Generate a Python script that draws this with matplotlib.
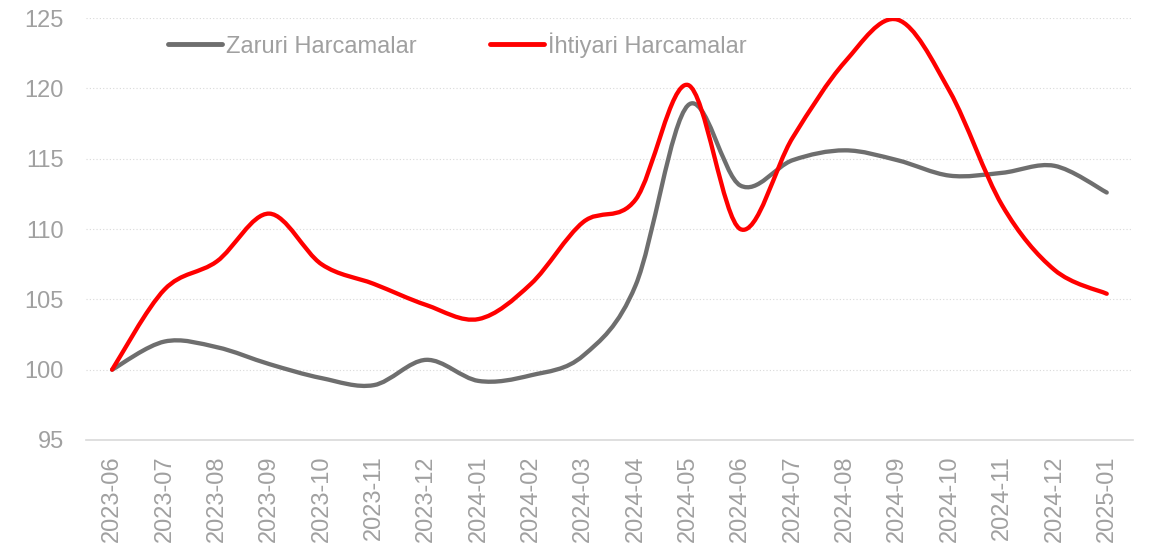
import matplotlib
matplotlib.use('Agg')
import matplotlib.pyplot as plt
import numpy as np
from matplotlib.path import Path
from matplotlib.patches import PathPatch
from matplotlib.lines import Line2D

months = ['2023-06', '2023-07', '2023-08', '2023-09', '2023-10', '2023-11', '2023-12',
          '2024-01', '2024-02', '2024-03', '2024-04', '2024-05', '2024-06', '2024-07',
          '2024-08', '2024-09', '2024-10', '2024-11', '2024-12', '2025-01']
zaruri = [100.0, 102.0, 101.6, 100.4, 99.4, 98.9, 100.7, 99.2, 99.6, 101.0,
          106.0, 118.8, 113.1, 114.9, 115.6, 114.9, 113.8, 114.0, 114.5, 112.6]
ihtiyari = [100.0, 105.7, 107.7, 111.1, 107.5, 106.1, 104.6, 103.6, 106.1, 110.5,
            112.1, 120.25, 110.0, 116.5, 121.9, 124.9, 119.8, 111.7, 107.1, 105.4]

GREY = '#6e6e6e'
RED = '#ff0000'
TEXT = '#a0a0a0'

plt.rcParams['font.family'] = ['Liberation Sans', 'DejaVu Sans']


def smooth_path(xs, ys):
    """Excel-style smoothed line as a cubic Bezier path."""
    pts = np.column_stack([xs, ys]).astype(float)
    n = len(pts)
    verts = [pts[0]]
    codes = [Path.MOVETO]
    for i in range(n - 1):
        p0 = pts[i - 1] if i > 0 else pts[i]
        p1 = pts[i]
        p2 = pts[i + 1]
        p3 = pts[i + 2] if i + 2 < n else pts[i + 1]
        c1 = p1 + (p2 - p0) / 6.0
        c2 = p2 - (p3 - p1) / 6.0
        verts += [c1, c2, p2]
        codes += [Path.CURVE4] * 3
    return Path(verts, codes)


fig = plt.figure(figsize=(11.49, 5.51), dpi=100)
ax = fig.add_axes([0.0748, 0.2015, 0.9112, 0.7655])

x = np.arange(len(months))
for ys, col in [(zaruri, GREY), (ihtiyari, RED)]:
    patch = PathPatch(smooth_path(x, ys), facecolor='none', edgecolor=col,
                      linewidth=3.1, capstyle='round', joinstyle='round', zorder=3)
    ax.add_patch(patch)

ax.set_xlim(-0.5, len(months) - 0.5)
ax.set_ylim(95, 125)
ax.set_yticks(np.arange(95, 126, 5))
ax.set_xticks(x)
ax.set_xticklabels(months, rotation=90)
ax.tick_params(axis='both', length=0, labelsize=17, colors=TEXT)
ax.tick_params(axis='x', pad=11)
ax.tick_params(axis='y', pad=16)

for v in np.arange(100, 126, 5):
    ax.axhline(v, color='#d9d9d9', linewidth=0.8, linestyle=(0, (1, 2)), zorder=1)

for s in ['top', 'right', 'left']:
    ax.spines[s].set_visible(False)
ax.spines['bottom'].set_color('#d9d9d9')
ax.spines['bottom'].set_linewidth(1.2)

handles = [Line2D([], [], color=GREY, linewidth=3.5, solid_capstyle='round'),
           Line2D([], [], color=RED, linewidth=3.5, solid_capstyle='round')]
leg = ax.legend(handles, ['Zaruri Harcamalar', 'İhtiyari Harcamalar'], ncol=2,
                frameon=False, loc='center left', bbox_to_anchor=(0.069, 0.937),
                fontsize=17, handlelength=2.3, handletextpad=0.17, columnspacing=3.1,
                borderaxespad=0)
for t in leg.get_texts():
    t.set_color(TEXT)

fig.savefig('out.png', dpi=100)
